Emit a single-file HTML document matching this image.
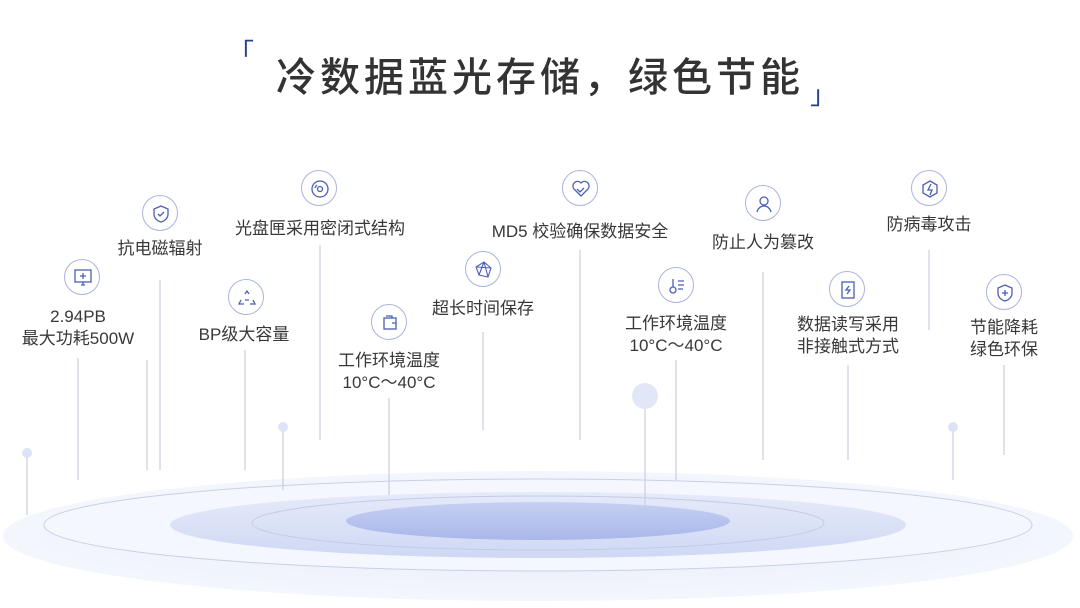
<!DOCTYPE html>
<html><head><meta charset="utf-8"><style>
body{margin:0;width:1080px;height:608px;background:#fff;overflow:hidden;position:relative;font-family:"Liberation Sans","Noto Sans CJK SC",sans-serif;color:#333}
.t{position:absolute;transform:translateX(-50%);white-space:nowrap;font-size:17px;line-height:22px;text-align:center;color:#383838}
.title{position:absolute;left:0;width:1080px;top:45px;text-align:center;font-size:40px;letter-spacing:4px;color:#333;font-weight:500}
.ic{position:absolute;width:36px;height:36px;border:1.2px solid #aab4dc;border-radius:50%;background:#fff;transform:translate(-50%,-50%);box-sizing:border-box}
.ic svg{position:absolute;left:8px;top:8px}
</style></head><body>
<svg width="1080" height="608" style="position:absolute;left:0;top:0">
<defs>
<radialGradient id="g1" cx="50%" cy="50%" r="50%"><stop offset="0" stop-color="#e8edfb"/><stop offset="1" stop-color="#f3f6fd"/></radialGradient>
<linearGradient id="g2" x1="0" y1="0" x2="0" y2="1"><stop offset="0" stop-color="#e6ebfa"/><stop offset="1" stop-color="#cfd8f4"/></linearGradient>
<linearGradient id="g3" x1="0" y1="0" x2="0" y2="1"><stop offset="0" stop-color="#c6d0f2"/><stop offset="1" stop-color="#a9b7ea"/></linearGradient>
</defs>
<ellipse cx="538" cy="536" rx="535" ry="65" fill="url(#g1)"/>
<ellipse cx="538" cy="525" rx="494" ry="46" fill="#f5f7fe" stroke="#c9d0e6" stroke-width="1"/>
<ellipse cx="538" cy="525" rx="368" ry="33" fill="url(#g2)"/>
<ellipse cx="538" cy="523" rx="286" ry="27" fill="none" stroke="#c4cbe4" stroke-width="1"/>
<ellipse cx="538" cy="521" rx="192" ry="19" fill="url(#g3)"/>
<g stroke="#c8cfe6" stroke-width="1.2">
<line x1="78" y1="358" x2="78" y2="480"/><line x1="147" y1="360" x2="147" y2="470"/><line x1="160" y1="280" x2="160" y2="470"/>
<line x1="320" y1="245" x2="320" y2="440"/><line x1="245" y1="350" x2="245" y2="470"/><line x1="389" y1="398" x2="389" y2="495"/>
<line x1="483" y1="332" x2="483" y2="430"/><line x1="580" y1="250" x2="580" y2="440"/><line x1="676" y1="360" x2="676" y2="480"/>
<line x1="763" y1="272" x2="763" y2="460"/><line x1="848" y1="365" x2="848" y2="460"/><line x1="929" y1="250" x2="929" y2="330"/>
<line x1="1004" y1="365" x2="1004" y2="455"/>
<line x1="27" y1="455" x2="27" y2="515"/><line x1="283" y1="428" x2="283" y2="490"/><line x1="645" y1="397" x2="645" y2="505"/><line x1="953" y1="428" x2="953" y2="480"/>
</g>
<circle cx="27" cy="453" r="5" fill="#dde3f6"/><circle cx="283" cy="427" r="5" fill="#dde3f6"/><circle cx="645" cy="396" r="13" fill="#e2e7f8"/><circle cx="953" cy="427" r="5" fill="#dde3f6"/>
<text x="228" y="62" font-size="26" fill="#24408e" font-family="Noto Sans CJK SC">「</text>
<text x="810" y="104" font-size="26" fill="#24408e" font-family="Noto Sans CJK SC">」</text>
</svg>
<div class="title">冷数据蓝光存储，绿色节能</div>

<div class="ic" style="left:82px;top:277px"><svg width="20" height="20" fill="none" stroke="#4a5fb5" stroke-width="1.3"><rect x="2" y="2" width="16" height="12"/><path d="M10 5v6M7 8h6M8 17h4M10 14v3"/></svg></div>
<div class="ic" style="left:160px;top:213px"><svg width="20" height="20" fill="none" stroke="#4a5fb5" stroke-width="1.3"><path d="M10 2l7 3v5c0 4-3 7-7 8-4-1-7-4-7-8V5z"/><path d="M7 10l2 2 4-4"/></svg></div>
<div class="ic" style="left:319px;top:188px"><svg width="20" height="20" fill="none" stroke="#4a5fb5" stroke-width="1.3"><circle cx="10" cy="10" r="8"/><circle cx="10" cy="10" r="2.5"/><path d="M5 9a5 5 0 0 1 2-3"/></svg></div>
<div class="ic" style="left:246px;top:297px"><svg width="20" height="20" fill="none" stroke="#4a5fb5" stroke-width="1.3"><path d="M8 6l2-3 2 3M4 12l-2 4h5M16 12l2 4h-5M8 12h4"/></svg></div>
<div class="ic" style="left:389px;top:322px"><svg width="20" height="20" fill="none" stroke="#4a5fb5" stroke-width="1.3"><rect x="4" y="5" width="12" height="11"/><path d="M12 5V3H6M12 10h4"/></svg></div>
<div class="ic" style="left:483px;top:269px"><svg width="20" height="20" fill="none" stroke="#4a5fb5" stroke-width="1.1"><path d="M10 2l7 6-3 9-9-2-3-8zM10 2l4 15M3 7l14 1M5 15l5-13"/></svg></div>
<div class="ic" style="left:580px;top:188px"><svg width="20" height="20" fill="none" stroke="#4a5fb5" stroke-width="1.3"><path d="M10 17L3 10a4 4 0 0 1 7-6 4 4 0 0 1 7 6z"/><path d="M6 10l3 3 4-4"/></svg></div>
<div class="ic" style="left:676px;top:285px"><svg width="20" height="20" fill="none" stroke="#4a5fb5" stroke-width="1.3"><circle cx="6" cy="14" r="3"/><path d="M6 11V3M11 5h6M11 9h6M11 13h5"/></svg></div>
<div class="ic" style="left:763px;top:203px"><svg width="20" height="20" fill="none" stroke="#4a5fb5" stroke-width="1.3"><circle cx="10" cy="7" r="4"/><path d="M3 18c1-4 4-6 7-6s6 2 7 6"/></svg></div>
<div class="ic" style="left:847px;top:289px"><svg width="20" height="20" fill="none" stroke="#4a5fb5" stroke-width="1.3"><rect x="4" y="2" width="12" height="16"/><path d="M11 6l-3 4h4l-3 4"/></svg></div>
<div class="ic" style="left:929px;top:188px"><svg width="20" height="20" fill="none" stroke="#4a5fb5" stroke-width="1.3"><path d="M10 2l7 4v8l-7 4-7-4V6z"/><path d="M11 5l-3 6h4l-2 5"/></svg></div>
<div class="ic" style="left:1004px;top:292px"><svg width="20" height="20" fill="none" stroke="#4a5fb5" stroke-width="1.3"><path d="M10 2l7 3v5c0 4-3 7-7 8-4-1-7-4-7-8V5z"/><path d="M10 7v6M7 10h6"/></svg></div>

<div class="t" style="left:78px;top:306px">2.94PB<br>最大功耗500W</div>
<div class="t" style="left:160px;top:238px">抗电磁辐射</div>
<div class="t" style="left:320px;top:218px">光盘匣采用密闭式结构</div>
<div class="t" style="left:244px;top:324px">BP级大容量</div>
<div class="t" style="left:389px;top:350px">工作环境温度<br>10°C～40°C</div>
<div class="t" style="left:483px;top:298px">超长时间保存</div>
<div class="t" style="left:580px;top:221px">MD5 校验确保数据安全</div>
<div class="t" style="left:676px;top:313px">工作环境温度<br>10°C～40°C</div>
<div class="t" style="left:763px;top:232px">防止人为篡改</div>
<div class="t" style="left:848px;top:314px">数据读写采用<br>非接触式方式</div>
<div class="t" style="left:929px;top:214px">防病毒攻击</div>
<div class="t" style="left:1004px;top:317px">节能降耗<br>绿色环保</div>
</body></html>
